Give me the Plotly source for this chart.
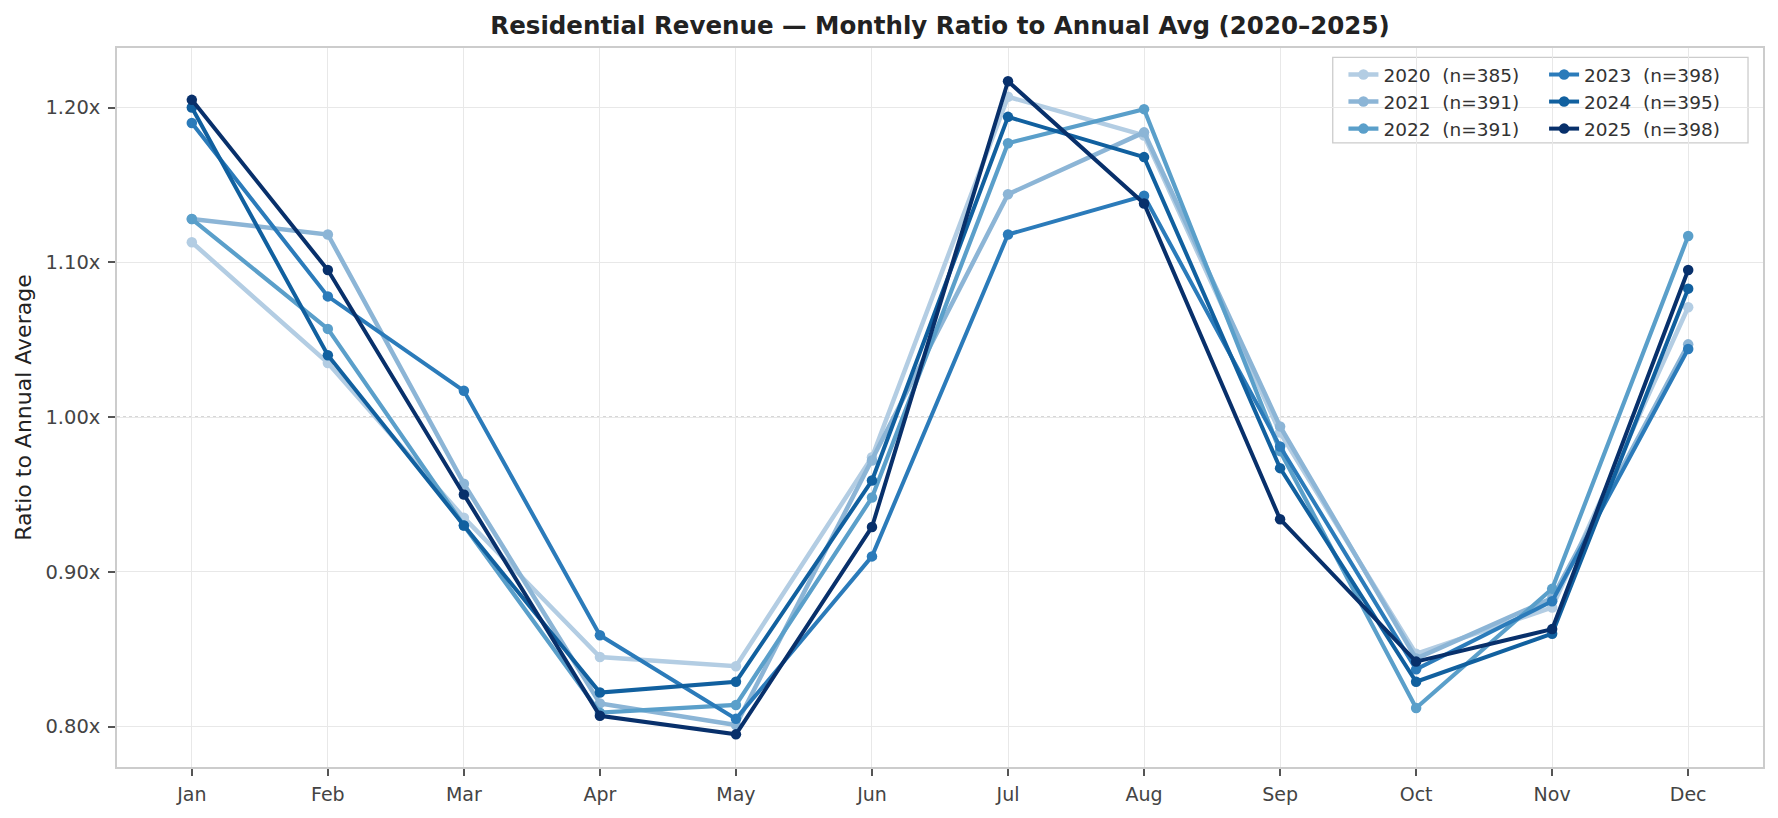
import plotly.graph_objects as go

months = ["Jan", "Feb", "Mar", "Apr", "May", "Jun", "Jul", "Aug", "Sep", "Oct", "Nov", "Dec"]
years = ["2020", "2021", "2022", "2023", "2024", "2025"]
counts = [385, 391, 391, 398, 395, 398]

r2020 = [1.113, 1.035, 0.935, 0.845, 0.839, 0.974, 1.207, 1.182, 0.990, 0.847, 0.877, 1.071]
r2021 = [1.128, 1.118, 0.957, 0.815, 0.801, 0.972, 1.144, 1.184, 0.994, 0.844, 0.883, 1.047]
r2022 = [1.128, 1.057, 0.930, 0.809, 0.814, 0.948, 1.177, 1.199, 0.978, 0.812, 0.889, 1.117]
r2023 = [1.190, 1.078, 1.017, 0.859, 0.805, 0.910, 1.118, 1.143, 0.981, 0.837, 0.881, 1.044]
r2024 = [1.200, 1.040, 0.930, 0.822, 0.829, 0.959, 1.194, 1.168, 0.967, 0.829, 0.860, 1.083]
r2025 = [1.205, 1.095, 0.950, 0.807, 0.795, 0.929, 1.217, 1.138, 0.934, 0.842, 0.863, 1.095]
series = [r2020, r2021, r2022, r2023, r2024, r2025]

y_ticks = [0.80, 0.90, 1.00, 1.10, 1.20]
y_ticktext = ["0.80x", "0.90x", "1.00x", "1.10x", "1.20x"]

colors = ["#b3cde3", "#8cb5d6", "#5a9fca", "#2b7bba", "#11609f", "#08306b"]
widths = [4.5, 4.5, 4.2, 4.0, 4.0, 4.0]

FONT = "DejaVu Sans"

fig = go.Figure()
for i, (yr, vals) in enumerate(zip(years, series)):
    fig.add_trace(go.Scatter(
        x=list(range(len(months))), y=vals,
        mode="lines+markers",
        name=f"{yr}  (n={counts[i]})",
        line=dict(color=colors[i], width=widths[i]),
        marker=dict(color=colors[i], size=10.5),
        legend="legend" if i < 3 else "legend2",
        hoverinfo="skip",
    ))

# reference line at 1.0
fig.add_shape(type="line", xref="paper", x0=0, x1=1, yref="y", y0=1.0, y1=1.0,
              line=dict(color="#b0b0b0", width=1.3, dash="dot"), layer="below")
# legend frame
fig.add_shape(type="rect", xref="paper", yref="paper",
              x0=0.7386, x1=0.9909, y0=0.868, y1=0.987,
              line=dict(color="#cccccc", width=1.3), fillcolor="rgba(255,255,255,0.85)",
              layer="below")

legend_common = dict(
    bgcolor="rgba(0,0,0,0)", borderwidth=0,
    font=dict(family=FONT, size=18.5, color="#333333"),
    xanchor="left", yanchor="top", tracegroupgap=0,
    itemwidth=30,
)

fig.update_layout(
    width=1770, height=810,
    margin=dict(l=109, r=15, t=40, b=51, autoexpand=False),
    paper_bgcolor="white", plot_bgcolor="white",
    font=dict(family=FONT, color="#444444"),
    title=dict(text="<b>Residential Revenue — Monthly Ratio to Annual Avg (2020–2025)</b>",
               x=0.5, xref="paper", xanchor="center",
               y=1 - 17 / 810, yref="container", yanchor="middle",
               font=dict(family=FONT, size=24.5, color="#222222")),
    legend=dict(x=0.7451, y=0.9889, **legend_common),
    legend2=dict(x=0.867, y=0.9889, **legend_common),
    showlegend=True,
)

fig.update_xaxes(
    range=[-0.55, 11.55],
    tickmode="array", tickvals=list(range(len(months))), ticktext=months,
    showgrid=True, gridcolor="#e8e8e8", gridwidth=1,
    ticks="outside", ticklen=7, tickwidth=1.5, tickcolor="#555555",
    tickfont=dict(family=FONT, size=19, color="#444444"),
    ticklabelstandoff=2,
    showline=True, linecolor="#cccccc", linewidth=1.5, mirror=True,
    zeroline=False, automargin=False,
)
fig.update_yaxes(
    range=[0.7739, 1.2385],
    tickmode="array", tickvals=y_ticks, ticktext=y_ticktext,
    showgrid=True, gridcolor="#e8e8e8", gridwidth=1,
    ticks="outside", ticklen=7, tickwidth=1.5, tickcolor="#555555",
    tickfont=dict(family=FONT, size=19.5, color="#444444"),
    ticklabelstandoff=4,
    showline=True, linecolor="#cccccc", linewidth=1.5, mirror=True,
    zeroline=False, automargin=False,
    title=dict(text="Ratio to Annual Average", font=dict(family=FONT, size=22, color="#222222"),
               standoff=8),
)

fig.write_html("out.html")
